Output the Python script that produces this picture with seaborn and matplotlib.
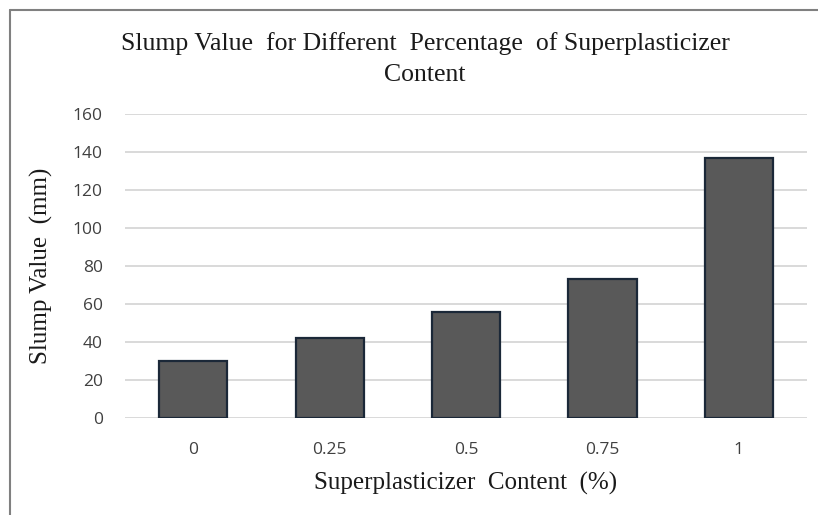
import matplotlib
matplotlib.use("Agg")
import matplotlib.pyplot as plt
import seaborn as sns
import pandas as pd
from matplotlib.lines import Line2D

categories = ["0", "0.25", "0.5", "0.75", "1"]
slump_values = [30, 42, 56, 73, 137]
y_ticks = [0, 20, 40, 60, 80, 100, 120, 140, 160]

df = pd.DataFrame({"content": categories, "slump": slump_values})

sns.set_theme(style="white")
plt.rcParams["font.family"] = ["Liberation Serif", "DejaVu Serif"]

W, H = 818, 515
fig = plt.figure(figsize=(W / 100, H / 100), dpi=100)
left, right, top, bottom = 125, 807, 114, 418
ax = fig.add_axes([left / W, 1 - bottom / H, (right - left) / W, (bottom - top) / H])

sns.barplot(data=df, x="content", y="slump", order=categories, color="#595959",
            width=0.5, edgecolor="#1b2838", linewidth=1.6, saturation=1, ax=ax, zorder=3)

ax.set_ylim(0, 160)
ax.set_yticks(y_ticks)
ax.grid(axis="y", color="#d0d0d0", linewidth=1.1, zorder=0)
ax.set_axisbelow(True)
for s in ax.spines.values():
    s.set_visible(False)
ax.tick_params(axis="both", length=0, labelsize=12.5, colors="#404040")
ax.tick_params(axis="y", pad=16)
ax.tick_params(axis="x", pad=17)
for lbl in ax.get_xticklabels() + ax.get_yticklabels():
    lbl.set_fontfamily("Open Sans")

ax.set_xlabel("Superplasticizer  Content  (%)", fontsize=18, color="#1a1a1a", labelpad=10)
ax.set_ylabel("Slump Value  (mm)", fontsize=18, color="#1a1a1a", labelpad=14)

fig.text(425 / W, 1 - 59 / H,
         "Slump Value  for Different  Percentage  of Superplasticizer\nContent",
         ha="center", va="center", fontsize=18.5, color="#1a1a1a", linespacing=1.55)

# figure border (top and left)
fig.add_artist(Line2D([10 / W, 1], [1 - 10 / H, 1 - 10 / H], color="#808080", linewidth=1.5,
                      transform=fig.transFigure))
fig.add_artist(Line2D([10 / W, 10 / W], [0, 1 - 10 / H], color="#808080", linewidth=1.5,
                      transform=fig.transFigure))

fig.savefig("out.png", dpi=100)
